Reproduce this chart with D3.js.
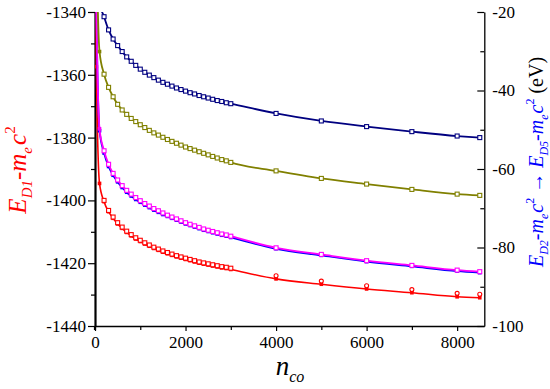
<!DOCTYPE html>
<html><head><meta charset="utf-8">
<script src="https://cdn.jsdelivr.net/npm/d3@7/dist/d3.min.js"></script>
<style>
body{margin:0;background:#fff;}
svg{display:block;}
</style></head>
<body><svg id="c" width="550" height="389"></svg>
<script>
// ---- data ----
const nValues = [10, 30, 100, 200, 300, 400, 500, 600, 700, 800, 900, 1000, 1100, 1200, 1300, 1400, 1500, 1600, 1700, 1800, 1900, 2000, 2100, 2200, 2300, 2400, 2500, 2600, 2700, 2800, 2900, 3000, 4000, 5000, 6000, 7000, 8000, 8500];
const nOpen = nValues.slice(3);           // n >= 200
const nDense = nValues.slice(3, 32);      // 200..3000
const nSparse = nValues.slice(32);        // 4000..8500

const eD1 = [-1310, -1357.4, -1394.6, -1400.4, -1403.6, -1405.7, -1407.5, -1408.9, -1410.2, -1411.3, -1412.3, -1413.1, -1413.9, -1414.6, -1415.3, -1415.9, -1416.5, -1417.0, -1417.5, -1418.0, -1418.4, -1418.8, -1419.2, -1419.6, -1420.0, -1420.3, -1420.6, -1420.9, -1421.2, -1421.5, -1421.7, -1422.0, -1425.0, -1426.7, -1428.2, -1429.4, -1430.7, -1431.0];
const eD1OpenSq = [-1400.0, -1403.2, -1405.3, -1407.1, -1408.5, -1409.8, -1410.9, -1411.9, -1412.7, -1413.5, -1414.2, -1414.9, -1415.5, -1416.1, -1416.6, -1417.1, -1417.6, -1418.0, -1418.4, -1418.8, -1419.2, -1419.6, -1419.9, -1420.2, -1420.5, -1420.8, -1421.1, -1421.3, -1421.6];
const eD1OpenCircle = [-1424.0, -1425.7, -1427.2, -1428.4, -1429.6, -1429.9];

const eD2 = [-1300, -1336, -1377.2, -1384.2, -1388.5, -1391.4, -1393.5, -1395.3, -1396.8, -1398.0, -1399.1, -1400.1, -1401.0, -1401.8, -1402.6, -1403.3, -1404.0, -1404.7, -1405.3, -1405.9, -1406.5, -1407.1, -1407.6, -1408.1, -1408.6, -1409.1, -1409.5, -1409.9, -1410.3, -1410.7, -1411.0, -1411.4, -1415.1, -1417.2, -1419.2, -1420.7, -1422.2, -1422.7];
const eD3 = [-1300, -1337, -1377.8, -1384.9, -1389.2, -1392.0, -1394.1, -1395.9, -1397.4, -1398.6, -1399.7, -1400.6, -1401.5, -1402.3, -1403.1, -1403.8, -1404.5, -1405.1, -1405.7, -1406.3, -1406.9, -1407.5, -1408.0, -1408.5, -1409.0, -1409.5, -1409.9, -1410.3, -1410.7, -1411.1, -1411.4, -1411.8, -1415.4, -1417.5, -1419.5, -1421.0, -1422.5, -1423.0];
const eD4 = [-1280, -1310, -1352.6, -1359.8, -1364.0, -1367.0, -1369.4, -1371.2, -1372.6, -1373.9, -1374.9, -1375.9, -1376.8, -1377.7, -1378.5, -1379.2, -1379.9, -1380.6, -1381.2, -1381.8, -1382.4, -1383.0, -1383.5, -1384.0, -1384.5, -1385.0, -1385.5, -1386.0, -1386.5, -1387.0, -1387.4, -1387.9, -1390.6, -1393.0, -1394.8, -1396.5, -1398.0, -1398.4];
const eD5 = [-1250, -1280, -1337, -1341.5, -1345.7, -1348.6, -1350.7, -1352.6, -1354.3, -1355.7, -1357.0, -1358.2, -1359.2, -1360.1, -1360.9, -1361.7, -1362.4, -1363.0, -1363.6, -1364.2, -1364.7, -1365.2, -1365.7, -1366.1, -1366.6, -1367.0, -1367.4, -1367.8, -1368.2, -1368.5, -1368.9, -1369.2, -1372.3, -1374.7, -1376.5, -1378.1, -1379.5, -1380.0];

const xTicks = [0, 2000, 4000, 6000, 8000];
const xMinor = [1000, 3000, 5000, 7000];
const yLeftTicks = [-1440, -1420, -1400, -1380, -1360, -1340];
const yLeftMinor = [-1430, -1410, -1390, -1370, -1350];
const yRightTicks = [-100, -80, -60, -40, -20];
const yRightMinor = [-90, -70, -50, -30];

// ---- layout ----
const FONT = '"Liberation Serif", "Times New Roman", serif';
const L = 95, R = 484.3, T = 12, B = 326;
const svg = d3.select("#c");
const x = d3.scaleLinear().domain([0, 8600]).range([L, R]);
const yL = d3.scaleLinear().domain([-1440, -1340]).range([B, T]);
const yR = d3.scaleLinear().domain([-100, -20]).range([B, T]);

svg.append("defs").append("clipPath").attr("id", "clip")
  .append("rect").attr("x", L).attr("y", T).attr("width", R - L + 6).attr("height", B - T);

const fmt = d => String(d).replace("\u2212", "-");

function styleAxis(g, w) {
  g.attr("font-family", null);
  g.selectAll(".domain").attr("stroke", "#000").attr("stroke-width", w);
  g.selectAll(".tick line").attr("stroke", "#000").attr("stroke-width", 1.2);
  g.selectAll("text").attr("font-size", 17).attr("fill", "#000").style("font-family", FONT);
}
function minorStyle(g) {
  g.select(".domain").remove();
  g.selectAll("line").attr("stroke", "#000").attr("stroke-width", 1.2);
}
const gx = svg.append("g").attr("transform", `translate(0,${B})`)
  .call(d3.axisBottom(x).tickValues(xTicks).tickFormat(fmt).tickSize(5).tickSizeOuter(0).tickPadding(5));
styleAxis(gx, 1.3);
svg.append("g").attr("transform", `translate(0,${B})`)
  .call(d3.axisBottom(x).tickValues(xMinor).tickFormat("").tickSize(4).tickSizeOuter(0)).call(minorStyle);

const gl = svg.append("g").attr("transform", `translate(${L},0)`)
  .call(d3.axisLeft(yL).tickValues(yLeftTicks).tickFormat(fmt).tickSize(7).tickSizeOuter(0).tickPadding(2));
styleAxis(gl, 2.2);
svg.append("g").attr("transform", `translate(${L},0)`)
  .call(d3.axisLeft(yL).tickValues(yLeftMinor).tickFormat("").tickSize(4).tickSizeOuter(0)).call(minorStyle);

const gr = svg.append("g").attr("transform", `translate(${R},0)`)
  .call(d3.axisRight(yR).tickValues(yRightTicks).tickFormat(fmt).tickSize(-7).tickSizeOuter(0).tickPadding(8));
styleAxis(gr, 1.3);
svg.append("g").attr("transform", `translate(${R},0)`)
  .call(d3.axisRight(yR).tickValues(yRightMinor).tickFormat("").tickSize(-4).tickSizeOuter(0)).call(minorStyle);
svg.append("line").attr("x1", L).attr("x2", L).attr("y1", B).attr("y2", B + 4).attr("stroke", "#000").attr("stroke-width", 2.2);

// ---- series ----
const plot = svg.append("g").attr("clip-path", "url(#clip)");
const line = d3.line().x(d => x(d[0])).y(d => yL(d[1])).curve(d3.curveMonotoneX);

function series(vals, color, lw, filledSize) {
  const pts = nValues.map((n, i) => [n, vals[i]]);
  plot.append("path").datum(pts).attr("d", line).attr("fill", "none")
    .attr("stroke", color).attr("stroke-width", lw);
  if (filledSize) {
    plot.selectAll(null).data(pts).enter().append("rect")
      .attr("x", d => x(d[0]) - filledSize / 2).attr("y", d => yL(d[1]) - filledSize / 2)
      .attr("width", filledSize).attr("height", filledSize).attr("fill", color);
  }
}
function openSquares(ns, vals, color) {
  plot.selectAll(null).data(ns.map((n, i) => [n, vals[i]])).enter().append("rect")
    .attr("x", d => x(d[0]) - 2).attr("y", d => yL(d[1]) - 2)
    .attr("width", 4).attr("height", 4).attr("fill", "#fff")
    .attr("stroke", color).attr("stroke-width", 1.1);
}
function openCircles(ns, vals, color) {
  plot.selectAll(null).data(ns.map((n, i) => [n, vals[i]])).enter().append("circle")
    .attr("cx", d => x(d[0])).attr("cy", d => yL(d[1])).attr("r", 2)
    .attr("fill", "#fff").attr("stroke", color).attr("stroke-width", 1.1);
}

const cRed = "#ff0000", cMag = "#ff00ff", cBlue = "#0000ff", cOlive = "#808000", cNavy = "#000080";

series(eD1, cRed, 1.6, 3.6);
openSquares(nDense, eD1OpenSq, cRed);
openCircles(nSparse, eD1OpenCircle, cRed);

series(eD3, cBlue, 1.8, 3.6);
series(eD2, cMag, 1.8, 3.6);
openSquares(nOpen, eD2.slice(3), cMag);

series(eD4, cOlive, 1.8, 3.6);
openSquares(nOpen, eD4.slice(3), cOlive);

series(eD5, cNavy, 1.8, 0);
openSquares(nOpen, eD5.slice(3), cNavy);

// ---- axis titles ----
const ll = svg.append("text").attr("transform", "translate(26,170) rotate(-90)")
  .attr("text-anchor", "middle").attr("fill", cRed).attr("font-size", 25).attr("font-style", "italic")
  .style("font-family", FONT);
ll.append("tspan").text("E");
ll.append("tspan").attr("font-size", 15).attr("dy", 6).text("D1");
ll.append("tspan").attr("dy", -6).attr("font-style", "normal").text("-");
ll.append("tspan").text("m");
ll.append("tspan").attr("font-size", 15).attr("dy", 6).text("e");
ll.append("tspan").attr("dy", -6).attr("dx", 2).text("c");
ll.append("tspan").attr("font-size", 15).attr("font-style", "normal").attr("dy", -11).text("2");

const rl = svg.append("text").attr("transform", "translate(543,162) rotate(-90)")
  .attr("text-anchor", "middle").attr("fill", cBlue).attr("font-size", 20).attr("font-style", "italic")
  .style("font-family", FONT);
function energyGroup(t, sub) {
  t.append("tspan").text("E");
  t.append("tspan").attr("font-size", 12).attr("dy", 5).text(sub);
  t.append("tspan").attr("dy", -5).attr("font-style", "normal").text("-");
  t.append("tspan").text("m");
  t.append("tspan").attr("font-size", 12).attr("dy", 5).text("e");
  t.append("tspan").attr("dy", -5).attr("dx", 1).text("c");
  t.append("tspan").attr("font-size", 12).attr("font-style", "normal").attr("dy", -9).text("2");
}
energyGroup(rl, "D2");
rl.append("tspan").attr("dy", 9).attr("font-style", "normal").text(" \u2192 ");
energyGroup(rl, "D5");
rl.append("tspan").attr("dy", 9).attr("font-style", "normal").attr("fill", "#000").text(" (eV)");

const xl = svg.append("text").attr("x", 290).attr("y", 375).attr("text-anchor", "middle")
  .attr("font-size", 27).attr("font-style", "italic").attr("fill", "#000").style("font-family", FONT);
xl.append("tspan").text("n");
xl.append("tspan").attr("font-size", 16).attr("dy", 7).text("co");
</script></body></html>
